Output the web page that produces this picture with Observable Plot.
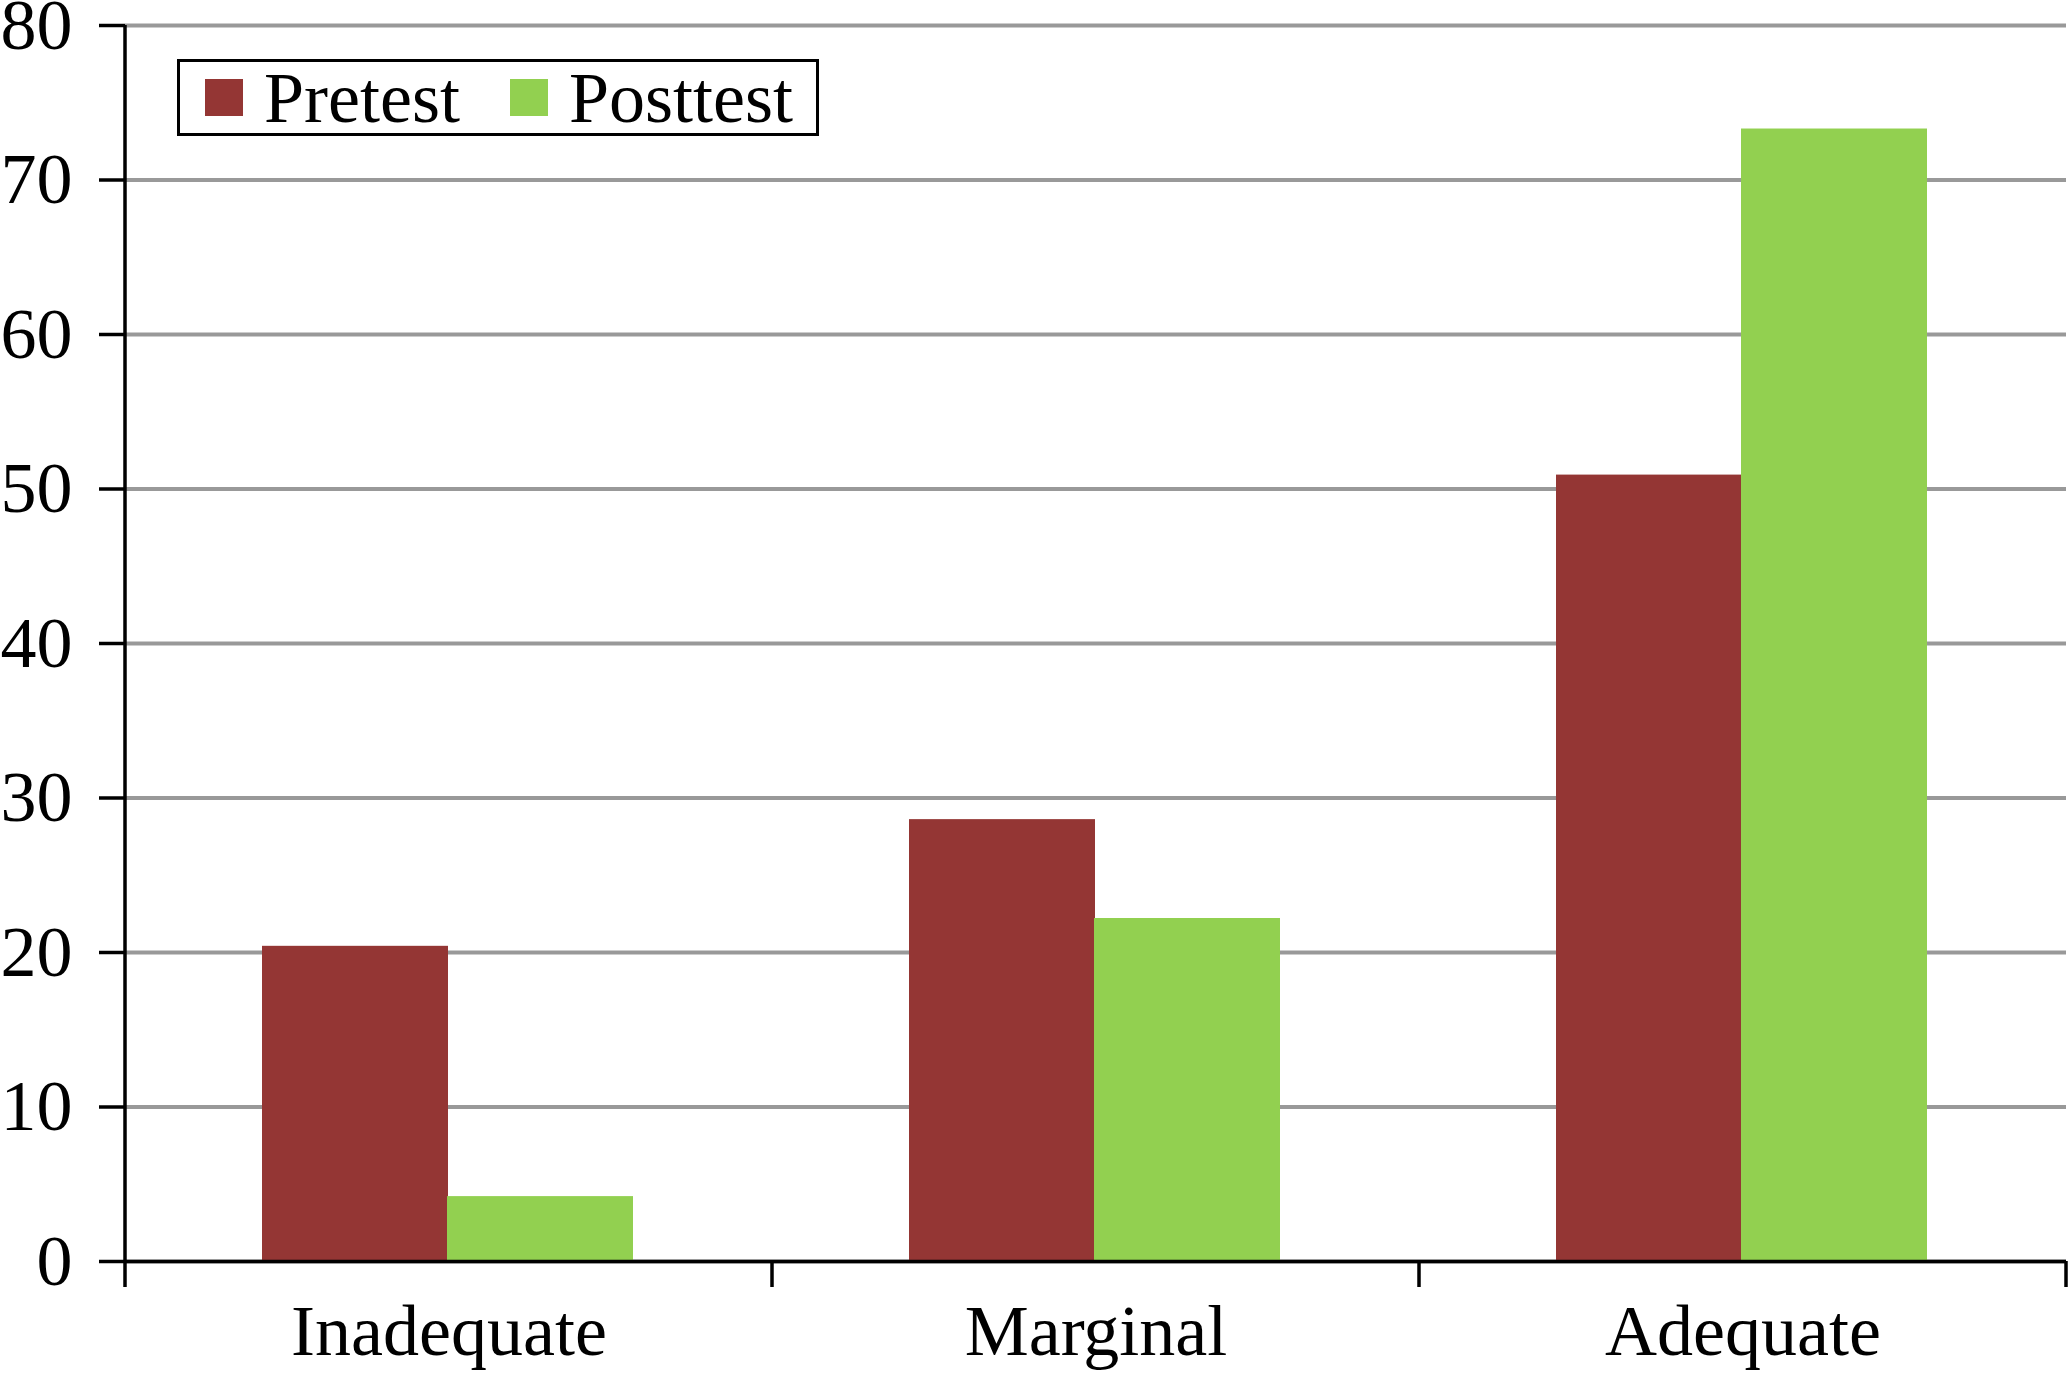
<!DOCTYPE html>
<html>
<head>
<meta charset="utf-8">
<script src="https://cdn.jsdelivr.net/npm/d3@7"></script>
<script src="https://cdn.jsdelivr.net/npm/@observablehq/plot@0.6"></script>
<style>
  html, body { margin: 0; padding: 0; background: #fff; overflow: hidden; }
  #wrap { position: relative; width: 2070px; height: 1375px; }
  #legend {
    position: absolute; left: 177px; top: 59px; width: 636px; height: 71px;
    border: 3px solid #000; background: #fff; box-sizing: content-box;
    font-family: "Liberation Serif", "Times New Roman", serif; font-size: 72px;
    display: flex; align-items: center;
  }
  #legend .item { display: flex; align-items: center; }
  #legend .sw { width: 38px; height: 37px; display: inline-block; }
  #legend .lab { line-height: 1; }
</style>
</head>
<body>
<div id="wrap"><div id="legend"></div></div>
<script>
const categories = ["Inadequate", "Marginal", "Adequate"];
const series = ["Pretest", "Posttest"];
const pretest = [20.4, 28.6, 50.9];
const posttest = [4.2, 22.2, 73.3];
const yTicks = [0, 10, 20, 30, 40, 50, 60, 70, 80];
const colors = ["#943634", "#92D050"];

const data = [];
categories.forEach((c, i) => {
  data.push({category: c, series: series[0], value: pretest[i]});
  data.push({category: c, series: series[1], value: posttest[i]});
});

const boundaryTicks = (index, {x, y}) => {
  const g = d3.create("svg:g").attr("stroke", "#000").attr("stroke-width", 3.5);
  const edges = [...categories.map(c => x(c)), x(categories[categories.length - 1]) + x.bandwidth()];
  g.selectAll("line.t").data(edges).join("line")
    .attr("x1", d => d).attr("x2", d => d)
    .attr("y1", y(0)).attr("y2", y(0) + 26);
  g.append("line")
    .attr("x1", x(categories[0])).attr("x2", x(categories[0]))
    .attr("y1", y(yTicks[yTicks.length - 1])).attr("y2", y(0));
  return g.node();
};

const chart = Plot.plot({
  width: 2070,
  height: 1375,
  marginLeft: 125,
  marginRight: 4,
  marginTop: 25,
  marginBottom: 114,
  style: {fontFamily: "Liberation Serif, Times New Roman, serif", fontSize: "72px", color: "#000", background: "#fff"},
  x: {domain: categories, padding: 0, label: null},
  y: {domain: [0, 80], label: null},
  color: {domain: series, range: colors},
  marks: [
    Plot.gridY(yTicks, {stroke: "#999", strokeOpacity: 1, strokeWidth: 4}),
    Plot.barY(data.filter(d => d.series === series[0]), {x: "category", y: "value", fill: "series", insetLeft: 137, insetRight: 324}),
    Plot.barY(data.filter(d => d.series === series[1]), {x: "category", y: "value", fill: "series", insetLeft: 322, insetRight: 139}),
    Plot.ruleY([0], {stroke: "#000", strokeWidth: 3.5}),
    Plot.axisY(yTicks, {tickSize: 26, tickPadding: 27, strokeWidth: 3.5, label: null, fontSize: 72}),
    Plot.axisX({tickSize: 26, tickPadding: 16, stroke: "none", label: null, fontSize: 72}),
    boundaryTicks
  ]
});
document.getElementById("wrap").prepend(chart);

const legend = d3.select("#legend");
series.forEach((s, i) => {
  const item = legend.append("div").attr("class", "item")
    .style("margin-left", i === 0 ? "25px" : "50px");
  item.append("span").attr("class", "sw").style("background", colors[i]);
  item.append("span").attr("class", "lab").style("margin-left", "21px").text(s);
});
</script>
</body>
</html>
